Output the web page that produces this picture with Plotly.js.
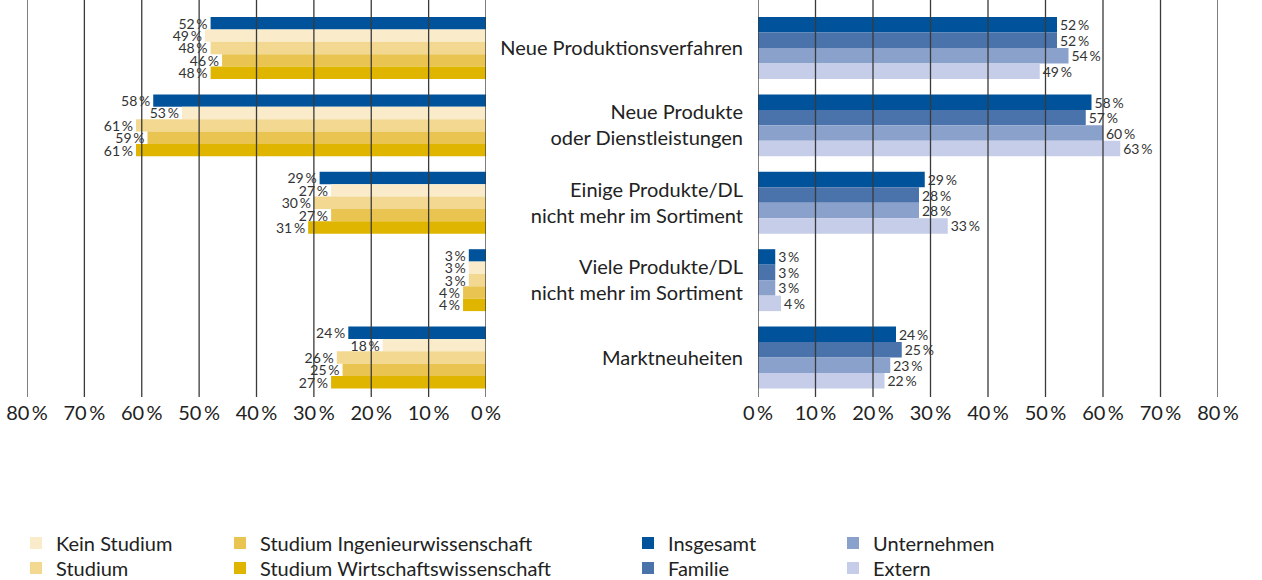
<!DOCTYPE html>
<html>
<head>
<meta charset="utf-8">
<script src="https://cdn.plot.ly/plotly-3.0.1.min.js"></script>
<style>
  body { margin: 0; background: #fff; }
  #chart { width: 1262px; height: 580px; }
</style>
</head>
<body>
<div id="chart"></div>
<script>
// categories (shared by both panels)
let categories = ['Neue Produktionsverfahren', 'Neue Produkte<br>oder Dienstleistungen',
  'Einige Produkte/DL<br>nicht mehr im Sortiment', 'Viele Produkte/DL<br>nicht mehr im Sortiment',
  'Marktneuheiten'];

// left panel: by education
let insgesamt = [52, 58, 29, 3, 24];
let insgesamtLeftBar = [48, 58, 29, 3, 24];   // first bar is drawn shorter than its label in the original
let keinStudium = [49, 53, 27, 3, 18];
let studium = [48, 61, 30, 3, 26];
let studiumIng = [46, 59, 27, 4, 25];
let studiumWirt = [48, 61, 31, 4, 27];

// right panel: by successor type
let familie = [52, 57, 28, 3, 25];
let unternehmen = [54, 60, 28, 3, 23];
let extern = [49, 63, 33, 4, 22];

let tickVals = [0, 10, 20, 30, 40, 50, 60, 70, 80];
let tickText = ['0\u2009%', '10\u2009%', '20\u2009%', '30\u2009%', '40\u2009%', '50\u2009%', '60\u2009%', '70\u2009%', '80\u2009%'];

const FONT = 'Lato, "Liberation Sans", sans-serif';
const W = 1262, PLOT_H = 397;

function pct(arr){
  return arr.map(v => v + '\u2009%');
}

function barTrace(name, vals, labels, color, side, legend, showlegend){
  return {
    type: 'bar',
    orientation: 'h',
    name: name,
    x: vals,
    y: categories,
    text: pct(labels),
    textposition: 'outside',
    constraintext: 'none',
    cliponaxis: false,
    textfont: {family: FONT, size: 14, color: '#333'},
    marker: {color: color, line: {width: 0}},
    xaxis: side == 'left' ? 'x' : 'x2',
    yaxis: side == 'left' ? 'y' : 'y2',
    legend: legend,
    showlegend: showlegend,
    hoverinfo: 'skip'
  };
}

let data = [
  barTrace('Insgesamt', insgesamtLeftBar, insgesamt, '#00539b', 'left', 'legend5', false),
  barTrace('Kein Studium', keinStudium, keinStudium, '#faeccb', 'left', 'legend', true),
  barTrace('Studium', studium, studium, '#f2d891', 'left', 'legend2', true),
  barTrace('Studium Ingenieurwissenschaft', studiumIng, studiumIng, '#e9c450', 'left', 'legend3', true),
  barTrace('Studium Wirtschaftswissenschaft', studiumWirt, studiumWirt, '#dfb500', 'left', 'legend4', true),
  barTrace('Insgesamt', insgesamt, insgesamt, '#00539b', 'right', 'legend5', true),
  barTrace('Familie', familie, familie, '#4a72ab', 'right', 'legend6', true),
  barTrace('Unternehmen', unternehmen, unternehmen, '#8aa1cc', 'right', 'legend7', true),
  barTrace('Extern', extern, extern, '#c6cde8', 'right', 'legend8', true)
];

// vertical grid lines drawn above the bars, one per tick
let shapes = [];
for (let ax of ['x', 'x2']){
  for (let v of tickVals){
    shapes.push({type: 'line', xref: ax, yref: 'paper', x0: v, x1: v, y0: 0, y1: 1,
      layer: 'above', line: {color: '#3a3a3a', width: 1.3}});
  }
}

let yRange = [4.51, -0.62];
let xCommon = {
  tickvals: tickVals, ticktext: tickText,
  ticks: '', showgrid: false, zeroline: false, showline: false,
  ticklabelstandoff: 2,
  tickfont: {family: FONT, size: 20, color: '#222'}
};

// legend grid: 4 columns x 2 rows, one legend per entry
let legendCols = [16, 220, 628, 833];
let legendRows = [543, 568];
function legendAt(col, row){
  return {
    orientation: 'v', xanchor: 'left', yanchor: 'middle',
    x: legendCols[col] / W, y: (PLOT_H - legendRows[row]) / PLOT_H,
    font: {family: FONT, size: 20, color: '#222'},
    bgcolor: 'rgba(0,0,0,0)', itemclick: false
  };
}

let layout = {
  width: 1262, height: 580,
  margin: {l: 0, r: 0, t: 0, b: 580 - PLOT_H, autoexpand: false},
  paper_bgcolor: '#fff', plot_bgcolor: '#fff',
  barmode: 'group', bargap: 0.2, bargroupgap: 0,
  font: {family: FONT},
  xaxis: Object.assign({}, xCommon, {domain: [27/W, 486/W], range: [80, 0], anchor: 'y'}),
  xaxis2: Object.assign({}, xCommon, {domain: [758/W, 1218/W], range: [0, 80], anchor: 'y2'}),
  yaxis: {range: yRange, anchor: 'x', showticklabels: false, showgrid: false, zeroline: false, ticks: ''},
  yaxis2: {range: yRange, anchor: 'x2', showgrid: false, zeroline: false, ticks: '',
    ticklabelstandoff: 14, tickfont: {family: FONT, size: 20, color: '#222'}},
  shapes: shapes,
  legend: legendAt(0, 0),
  legend2: legendAt(0, 1),
  legend3: legendAt(1, 0),
  legend4: legendAt(1, 1),
  legend5: legendAt(2, 0),
  legend6: legendAt(2, 1),
  legend7: legendAt(3, 0),
  legend8: legendAt(3, 1)
};

Plotly.newPlot('chart', data, layout, {staticPlot: true});
</script>
</body>
</html>
